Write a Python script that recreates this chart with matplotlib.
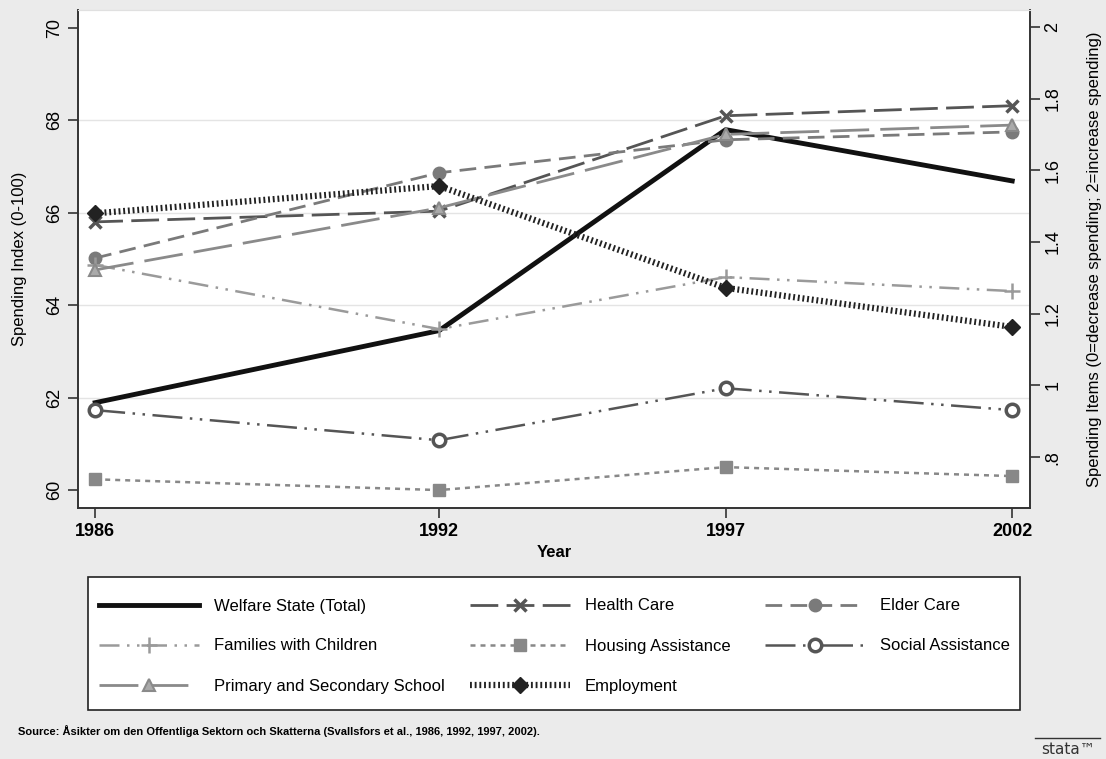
import matplotlib
matplotlib.use("Agg")
import matplotlib.pyplot as plt
from matplotlib.lines import Line2D
from matplotlib.patches import Rectangle

plt.rcParams['font.family'] = ['Liberation Sans', 'DejaVu Sans']

years = [1986, 1992, 1997, 2002]
welfare_total = [61.89, 63.45, 67.80, 66.69]
health_care = [1.456, 1.486, 1.752, 1.780]
elder_care = [1.355, 1.593, 1.685, 1.707]
families = [1.336, 1.157, 1.302, 1.263]
housing = [0.738, 0.708, 0.772, 0.747]
social = [0.931, 0.847, 0.992, 0.931]
school = [1.322, 1.495, 1.700, 1.726]
employment = [1.480, 1.556, 1.272, 1.163]

left_ticks = [60, 62, 64, 66, 68, 70]
right_ticks = [0.8, 1.0, 1.2, 1.4, 1.6, 1.8, 2.0]
right_labels = ['.8', '1', '1.2', '1.4', '1.6', '1.8', '2']

W, H = 1106, 759
fig = plt.figure(figsize=(W / 100, H / 100), dpi=100)
fig.patch.set_facecolor('#ebebeb')

ax = fig.add_axes([78 / W, 1 - 508 / H, (1030 - 78) / W, (508 - 10) / H])
ax.set_facecolor('white')
ax2 = ax.twinx()

ax.set_xlim(1985.70, 2002.31)
ax.set_ylim(59.61, 70.39)
ax2.set_ylim(0.658, 2.047)

ax.set_yticks(left_ticks)
ax.set_yticklabels([str(t) for t in left_ticks], rotation=90, va='center', fontsize=13)
ax2.set_yticks(right_ticks)
ax2.set_yticklabels(right_labels, rotation=90, va='center', fontsize=13)
ax.set_xticks(years)
ax.set_xticklabels([str(y) for y in years], fontsize=13, fontweight='bold')

for y in [62, 64, 66, 68]:
    ax.axhline(y, color='#e4e4e4', lw=1.0, zorder=0)

for a in (ax, ax2):
    a.tick_params(direction='out', length=7, width=1.2, color='#333333')
    for s in ['left', 'right', 'bottom']:
        a.spines[s].set_color('#333333')
        a.spines[s].set_linewidth(1.2)
    a.spines['top'].set_color('#e0e0e0')

ax.set_ylabel('Spending Index (0-100)', fontsize=12, labelpad=14)
ax2.set_ylabel('Spending Items (0=decrease spending; 2=increase spending)', fontsize=12,
               rotation=90, labelpad=18)
ax.set_xlabel('Year', fontsize=12, fontweight='bold', labelpad=4)

ms = 9
h_total, = ax.plot(years, welfare_total, color='#111111', lw=3.5, label='Welfare State (Total)', zorder=5)
h_health, = ax2.plot(years, health_care, color='#555555', lw=2.0, ls=(0, (10, 3)), marker='x', ms=ms,
                     mew=2.5, label='Health Care')
h_elder, = ax2.plot(years, elder_care, color='#7a7a7a', lw=2.0, ls=(0, (6, 3)), marker='o', ms=ms,
                    label='Elder Care')
h_fam, = ax2.plot(years, families, color='#9a9a9a', lw=1.8, ls=(0, (8, 3, 1, 3, 1, 3)), marker='+', ms=11,
                  mew=1.8, label='Families with Children')
h_house, = ax2.plot(years, housing, color='#888888', lw=1.8, ls=(0, (2, 2)), marker='s', ms=ms,
                    label='Housing Assistance')
h_social, = ax2.plot(years, social, color='#555555', lw=1.8, ls=(0, (12, 3, 1, 3, 1, 3)), marker='o', ms=ms,
                     mfc='white', mew=2.5, label='Social Assistance')
h_school, = ax2.plot(years, school, color='#8a8a8a', lw=2.0, ls=(0, (14, 4)), marker='^', ms=ms,
                     mfc='#aaaaaa', mew=1.5, label='Primary and Secondary School')
h_emp, = ax2.plot(years, employment, color='#222222', lw=4.5, ls=(0, (0.3, 0.45)), marker='D', ms=8,
                  label='Employment')

# legend frame
fig.add_artist(Rectangle((88 / W, 1 - 710 / H), (1020 - 88) / W, (710 - 577) / H,
                         transform=fig.transFigure, facecolor='white', edgecolor='#222222', lw=1.2))

columns = [
    ([h_total, h_fam, h_school], 99),
    ([h_health, h_house, h_emp], 470),
    ([h_elder, h_social], 765),
]
for hs, x0 in columns:
    lg = fig.legend(hs, [h.get_label() for h in hs], loc='upper left',
                    bbox_to_anchor=(x0 / W, 1 - 598.5 / H), frameon=False,
                    fontsize=12, handlelength=6.0, handletextpad=0.9,
                    labelspacing=1.5, borderpad=0.0, borderaxespad=0.0)

fig.text(18 / W, 1 - 731 / H,
         'Source: Åsikter om den Offentliga Sektorn och Skatterna (Svallsfors et al., 1986, 1992, 1997, 2002).',
         fontsize=8, fontweight='bold', va='center', ha='left')

fig.add_artist(Line2D([1035 / W, 1100 / W], [1 - 738 / H, 1 - 738 / H], color='#333333', lw=1.0))
fig.text(1068 / W, 1 - 749 / H, 'stata\u2122', fontsize=11, va='center', ha='center', color='#333333',
         family=['DejaVu Sans'])

fig.savefig('out.png', dpi=100, facecolor=fig.get_facecolor())
